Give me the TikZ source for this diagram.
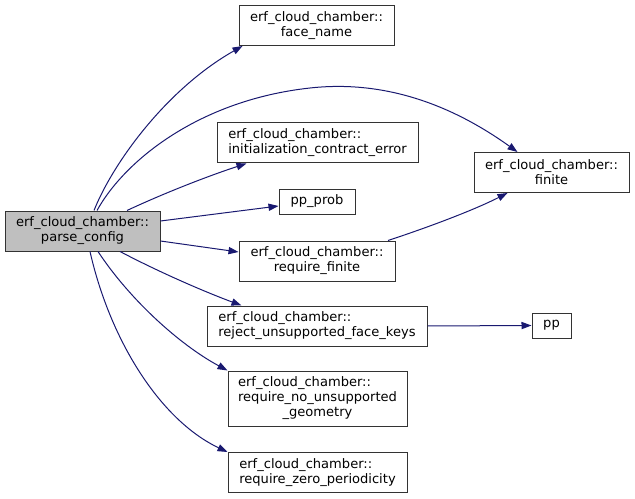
\documentclass[tikz,border=0pt]{standalone}
\usepackage{fontspec}
\setmainfont{DejaVu Sans}
\usetikzlibrary{arrows.meta,calc}
\definecolor{edgeblue}{HTML}{191970}
\definecolor{boxgray}{HTML}{BFBFBF}
\definecolor{boxline}{HTML}{333333}
\newcommand\pxu{0.75pt}
\begin{document}
\begin{tikzpicture}[x=0.75pt,y=-0.75pt,
  fn/.style={draw=boxline, line width=0.75pt, fill=white, inner sep=2pt,
    font=\fontsize{9.8}{11.25}\selectfont, text=black},
  edge/.style={draw=edgeblue, line width=0.75pt,
    -{Triangle[length=7.5pt,width=5.4pt]}, fill=none}]
\useasboundingbox (0,0) rectangle (635,499);
% nodes
\node[fn, fill=boxgray, align=center, minimum width=155*\pxu, minimum height=40*\pxu] (parse) at (82.5,231) {erf\_cloud\_chamber::\\parse\_config};
\node[fn, align=center, minimum width=155*\pxu, minimum height=40*\pxu] (face) at (316.5,25.5) {erf\_cloud\_chamber::\\face\_name};
\node[fn, align=left, minimum width=201*\pxu, minimum height=40*\pxu] (init) at (317.5,143) {erf\_cloud\_chamber::\\initialization\_contract\_error};
\node[fn, minimum width=76*\pxu, minimum height=25*\pxu] (ppprob) at (317,201.5) {pp\_prob};
\node[fn, align=center, minimum width=156*\pxu, minimum height=40*\pxu] (rfinite) at (317,261) {erf\_cloud\_chamber::\\require\_finite};
\node[fn, align=left, minimum width=220*\pxu, minimum height=40*\pxu] (reject) at (317,326) {erf\_cloud\_chamber::\\reject\_unsupported\_face\_keys};
\node[fn, minimum width=179*\pxu, minimum height=55*\pxu] (geom) at (317.5,398.5) {\begin{tabular}{@{}l@{}}erf\_cloud\_chamber::\\require\_no\_unsupported\\\multicolumn{1}{@{}c@{}}{\_geometry}\end{tabular}};
\node[fn, align=left, minimum width=179*\pxu, minimum height=40*\pxu] (zero) at (317.5,472.5) {erf\_cloud\_chamber::\\require\_zero\_periodicity};
\node[fn, align=center, minimum width=155*\pxu, minimum height=40*\pxu] (finite) at (551.5,172.5) {erf\_cloud\_chamber::\\finite};
\node[fn, minimum width=39*\pxu, minimum height=25*\pxu] (pp) at (551.5,325.5) {pp};
% edges
\draw[edge] ($(parse.north)+(11.5,0)$) .. controls (112,165) and (165,90) .. ($(face.south west)+(4,0)$);
\draw[edge] ($(parse.north)+(14.5,0)$) .. controls (125,160) and (200,100) .. (310,88) .. controls (400,78) and (470,118) .. ($(finite.north west)+(44,0)$);
\draw[edge] ($(parse.north)+(44.5,0)$) .. controls (160,195) and (205,177) .. ($(init.south west)+(30,0)$);
\draw[edge] ($(parse.east)+(0,-10)$) -- ($(ppprob.west)+(0,4.5)$);
\draw[edge] ($(parse.east)+(0,10)$) -- ($(rfinite.west)+(0,-9)$);
\draw[edge] ($(parse.south)+(37.5,0)$) .. controls (155,270) and (200,290) .. ($(reject.north west)+(35,0)$);
\draw[edge] ($(parse.south)+(15.5,0)$) .. controls (130,300) and (180,345) .. (geom.north west);
\draw[edge] ($(parse.south)+(7.5,0)$) .. controls (110,340) and (160,420) .. (zero.north west);
\draw[edge] ($(rfinite.north)+(71,0)$) .. controls (420,230) and (470,212) .. ($(finite.south west)+(34,0)$);
\draw[edge] (reject.east) -- (pp.west);
\end{tikzpicture}
\end{document}
